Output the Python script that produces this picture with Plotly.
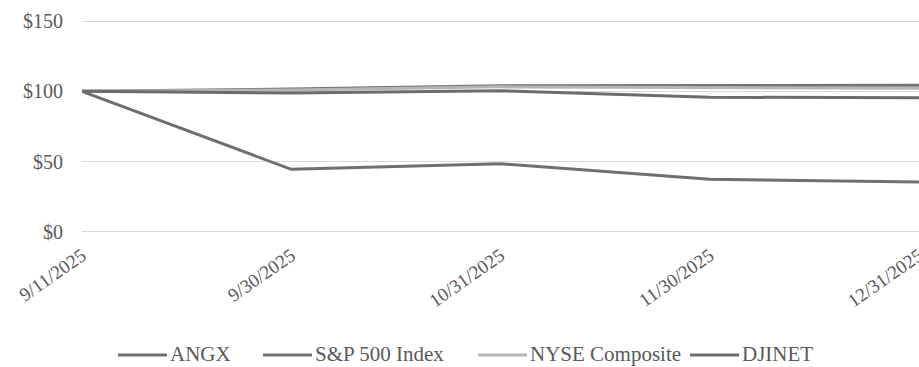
import plotly.graph_objects as go

dates = ["9/11/2025", "9/30/2025", "10/31/2025", "11/30/2025", "12/31/2025"]
angx = [100, 44.5, 48.5, 37.5, 35.5]
sp500 = [100, 101.6, 104.0, 104.2, 104.3]
nyse = [100, 101.0, 103.2, 102.8, 102.2]
djinet = [100, 98.8, 100.4, 95.8, 95.5]

series_names = ["ANGX", "S&P 500 Index", "NYSE Composite", "DJINET"]
series_values = [angx, sp500, nyse, djinet]
series_colors = ["#6f6f6f", "#737373", "#b5b5b5", "#6c6c6c"]

font_family = "Times New Roman, Liberation Serif, Tinos, DejaVu Serif, serif"
text_color = "#595959"

# figure geometry (pixels)
W, H = 919, 367
M_L, M_R, M_T, M_B = 82, 0, 19, 133
plot_w = W - M_L - M_R
plot_h = H - M_T - M_B

fig = go.Figure()
for name, vals, color in zip(series_names, series_values, series_colors):
    fig.add_trace(go.Scatter(
        x=dates, y=vals, name=name, mode="lines",
        line=dict(color=color, width=3), showlegend=False,
    ))

# legend row beneath the chart: a long swatch followed directly by its label
legend_row_px = 355
legend_starts_px = [118, 263, 478, 690]
swatch_px = 49
ly = (M_T + plot_h - legend_row_px) / plot_h
for name, color, start in zip(series_names, series_colors, legend_starts_px):
    x0 = (start - M_L) / plot_w
    x1 = (start + swatch_px - M_L) / plot_w
    fig.add_shape(
        type="line", xref="paper", yref="paper",
        x0=x0, x1=x1, y0=ly, y1=ly,
        line=dict(color=color, width=3),
    )
    fig.add_annotation(
        xref="paper", yref="paper", x=x1, y=ly,
        text=name, showarrow=False, xanchor="left", yanchor="middle",
        xshift=1, yshift=1,
        font=dict(family=font_family, size=21, color=text_color),
    )

fig.update_layout(
    width=W, height=H,
    margin=dict(l=M_L, r=M_R, t=M_T, b=M_B, autoexpand=False),
    paper_bgcolor="white", plot_bgcolor="white",
    font=dict(family=font_family, size=20, color=text_color),
    showlegend=False,
    xaxis=dict(
        type="category", range=[0, 4], showgrid=False, showline=False,
        zeroline=False, ticks="", tickangle=-35, automargin=False,
        ticklabelstandoff=6,
        tickfont=dict(family=font_family, size=19, color=text_color),
    ),
    yaxis=dict(
        range=[-1.5, 151.5], tickvals=[0, 50, 100, 150],
        ticktext=["$0", "$50", "$100", "$150"],
        showgrid=True, gridcolor="#d9d9d9", gridwidth=1,
        zeroline=False, showline=False, ticks="", automargin=False,
        ticklabelstandoff=18,
        tickfont=dict(family=font_family, size=20, color=text_color),
    ),
)

fig.write_html("out.html")
